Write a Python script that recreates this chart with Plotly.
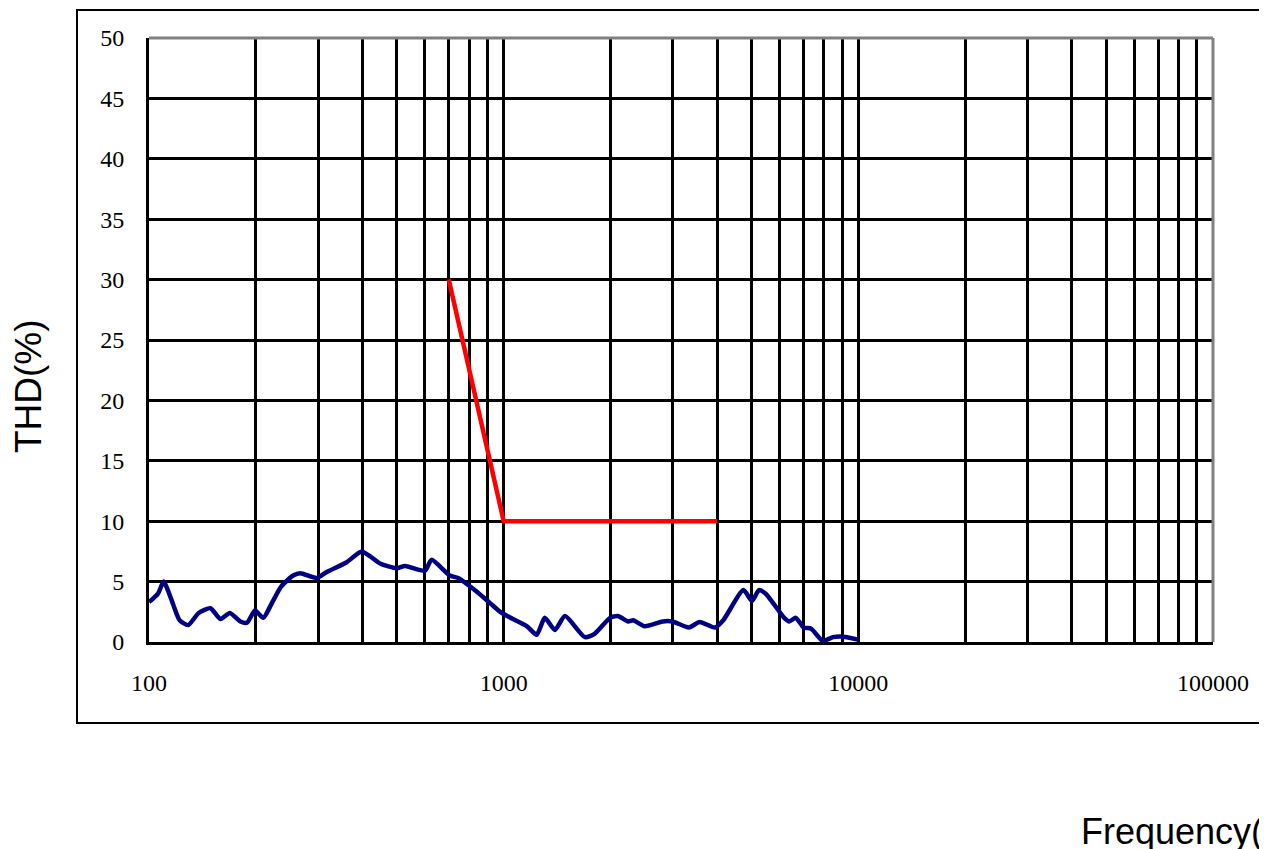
import plotly.graph_objects as go

# Blue measured THD curve
thd_freq = [100, 106, 110, 113, 117, 122, 129, 138, 149, 159, 169, 181, 189, 199, 210, 221,
            236, 255, 267, 297, 317, 361, 398, 448, 499, 527, 600, 626, 705, 744, 837, 917,
            978, 1046, 1163, 1239, 1306, 1395, 1489, 1695, 1808, 1995, 2100, 2243, 2318, 2500,
            2808, 2990, 3330, 3570, 3944, 4160, 4742, 5014, 5247, 5482, 6180, 6385, 6666, 7010,
            7366, 7929, 8485, 8957, 9975]
thd_vals = [3.3, 4.0, 5.0, 4.3, 3.1, 1.8, 1.4, 2.4, 2.8, 1.9, 2.4, 1.7, 1.6, 2.6, 2.0, 3.1,
            4.6, 5.5, 5.7, 5.3, 5.8, 6.6, 7.5, 6.5, 6.1, 6.3, 5.9, 6.8, 5.5, 5.3, 4.2, 3.2,
            2.5, 2.0, 1.3, 0.6, 2.0, 1.0, 2.15, 0.4, 0.7, 2.0, 2.15, 1.7, 1.8, 1.3,
            1.7, 1.7, 1.2, 1.65, 1.2, 1.8, 4.3, 3.4, 4.3, 4.0, 2.0, 1.7, 2.0, 1.2,
            1.1, 0.1, 0.4, 0.45, 0.2]

# Red limit line
limit_freq = [700, 1000, 4000]
limit_vals = [30, 10, 10]

# Axis ticks
x_grid = [m * 10 ** e for e in (2, 3, 4) for m in range(1, 10)] + [100000]
x_labels = {100: "100", 1000: "1000", 10000: "10000", 100000: "100000"}
y_ticks = list(range(0, 51, 5))

x_title = "Frequency(Hz)"
y_title = "THD(%)"

fig = go.Figure()
fig.add_trace(go.Scatter(x=thd_freq, y=thd_vals, mode="lines",
                         line=dict(color="#000080", width=4.5, shape="spline", smoothing=0.6),
                         hoverinfo="skip", showlegend=False))
fig.add_trace(go.Scatter(x=limit_freq, y=limit_vals, mode="lines",
                         line=dict(color="#FF0000", width=4.5),
                         hoverinfo="skip", showlegend=False))

# page body has an 8px offset; positions below are in figure pixels
OFF = 8
W, H = 1267, 849
L, R, T, B = 149 - OFF, 1213 - OFF, 38 - OFF, 642 - OFF
fig.update_layout(
    width=W, height=H,
    margin=dict(l=L, r=W - R, t=T, b=H - B, pad=0),
    paper_bgcolor="white", plot_bgcolor="white",
    showlegend=False,
    xaxis=dict(type="log", range=[2, 5],
               tickvals=x_grid,
               ticktext=[x_labels.get(v, "") for v in x_grid],
               showgrid=True, gridcolor="#000000", gridwidth=2.5,
               showline=True, linecolor="#000000", linewidth=3,
               ticks="", ticklabelstandoff=17,
               tickfont=dict(family="Liberation Serif", size=24, color="#000000"),
               zeroline=False),
    yaxis=dict(range=[0, 50], tickvals=y_ticks,
               showgrid=True, gridcolor="#000000", gridwidth=2.5,
               showline=True, linecolor="#000000", linewidth=3,
               ticks="", ticklabelstandoff=17,
               tickfont=dict(family="Liberation Serif", size=24, color="#000000"),
               zeroline=False),
)

def px(xs):
    return (xs - OFF - L) / (R - L)

def py(ys):
    return (B - (ys - OFF)) / (B - T)

# top and right borders of plot area (gray)
fig.add_shape(type="line", xref="paper", yref="paper", x0=0, x1=1, y0=1, y1=1,
              line=dict(color="#808080", width=3))
fig.add_shape(type="line", xref="paper", yref="paper", x0=1, x1=1, y0=0, y1=1,
              line=dict(color="#808080", width=3))
# outer chart frame
fig.add_shape(type="rect", xref="paper", yref="paper",
              x0=px(77), x1=px(1300), y0=py(723), y1=py(10),
              line=dict(color="#000000", width=2), layer="below")

fig.add_annotation(text=y_title, xref="paper", yref="paper", x=px(28), y=py(386),
                   textangle=-90, showarrow=False, xanchor="center", yanchor="middle",
                   font=dict(family="Liberation Sans", size=37, color="#000000"))
fig.add_annotation(text=x_title, xref="paper", yref="paper", x=px(1079), y=py(831),
                   showarrow=False, xanchor="left", yanchor="middle",
                   font=dict(family="Liberation Sans", size=36, color="#000000"))

fig.write_html("out.html")
